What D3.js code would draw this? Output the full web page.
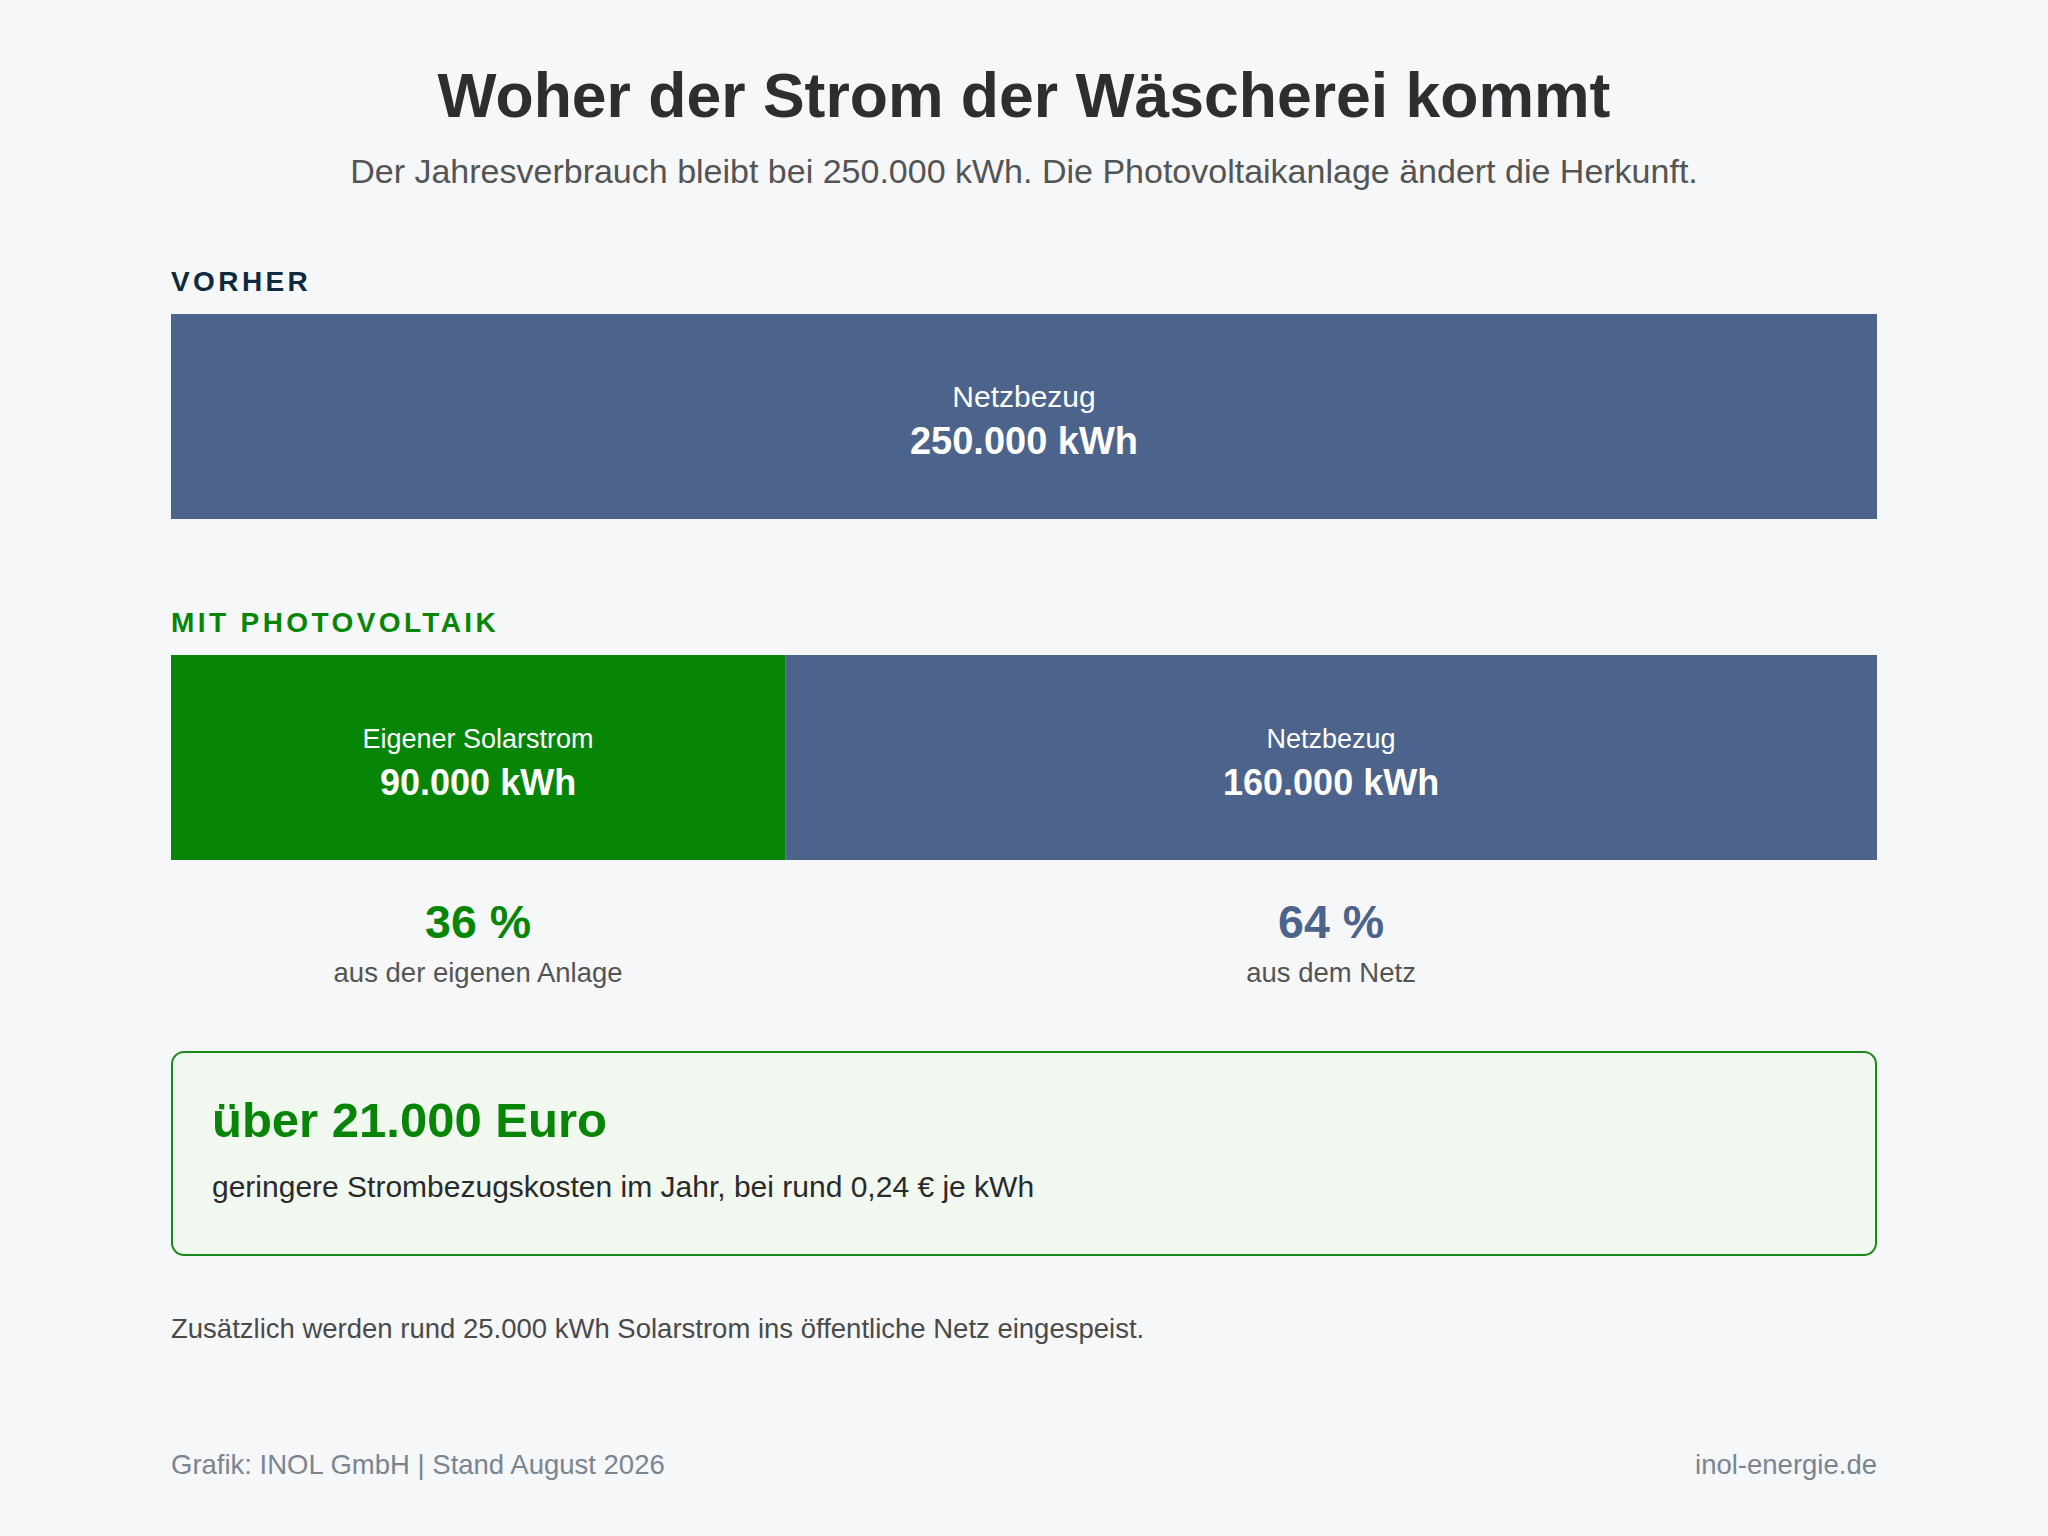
<!DOCTYPE html>
<html>
<head>
<meta charset="utf-8">
<script src="https://cdn.jsdelivr.net/npm/d3@7/dist/d3.min.js"></script>
<style>
  html, body { margin: 0; padding: 0; background: #f6f7f9; }
  svg { display: block; font-family: "Liberation Sans", Arial, sans-serif; }
</style>
</head>
<body>
<svg id="vis"></svg>
<script>
const width = 2048;
const height = 1536;

/* DATA */
const total = 250000;
const beforeSegments = ["Netzbezug"];
const beforeValues = [250000];
const beforeValueLabels = ["250.000 kWh"];
const afterSegments = ["Eigener Solarstrom", "Netzbezug"];
const afterValues = [90000, 160000];
const afterValueLabels = ["90.000 kWh", "160.000 kWh"];
const afterShares = ["36 %", "64 %"];
const afterShareLabels = ["aus der eigenen Anlage", "aus dem Netz"];

const titleText = "Woher der Strom der Wäscherei kommt";
const subtitleText = "Der Jahresverbrauch bleibt bei 250.000 kWh. Die Photovoltaikanlage ändert die Herkunft.";
const savingText = "über 21.000 Euro";
const savingNote = "geringere Strombezugskosten im Jahr, bei rund 0,24 € je kWh";
const feedInNote = "Zusätzlich werden rund 25.000 kWh Solarstrom ins öffentliche Netz eingespeist.";
const footerLeft = "Grafik: INOL GmbH | Stand August 2026";
const footerRight = "inol-energie.de";

const colors = {
  grid: "#4c638b",
  solar: "#078507",
  title: "#2e2e2e",
  sub: "#545454",
  heading: "#0f2a3d",
  foot: "#7a8591"
};

const margin = { left: 171, right: 171 };
const barHeight = 205;

let svg = d3.select("svg#vis").attr("width", width).attr("height", height);

const x = d3.scaleLinear()
  .domain([0, total])
  .range([margin.left, width - margin.right]);


/* TITLES */
svg.append("text")
  .attr("x", width / 2).attr("y", 117)
  .attr("text-anchor", "middle")
  .attr("font-size", 62.5).attr("font-weight", "bold")
  .attr("fill", colors.title)
  .text(titleText);

svg.append("text")
  .attr("x", width / 2).attr("y", 183)
  .attr("text-anchor", "middle")
  .attr("font-size", 34)
  .attr("fill", colors.sub)
  .text(subtitleText);


/* BARS */
drawSection({
  heading: "VORHER", headColor: colors.heading, headY: 291, barY: 314,
  names: beforeSegments, values: beforeValues, labels: beforeValueLabels,
  fills: [colors.grid], nameSize: 30, valueSize: 38
});

drawSection({
  heading: "MIT PHOTOVOLTAIK", headColor: colors.solar, headY: 632, barY: 655,
  names: afterSegments, values: afterValues, labels: afterValueLabels,
  fills: [colors.solar, colors.grid], nameSize: 27, valueSize: 36
});

function drawSection(opt) {
  svg.append("text")
    .attr("x", margin.left).attr("y", opt.headY)
    .attr("font-size", 28).attr("font-weight", "bold")
    .attr("letter-spacing", 3.4)
    .attr("fill", opt.headColor)
    .text(opt.heading);

  let start = 0;
  const segs = opt.values.map(function(v, i) {
    const s = { name: opt.names[i], label: opt.labels[i], x0: start, x1: start + v, fill: opt.fills[i] };
    start += v;
    return s;
  });

  const g = svg.append("g").attr("transform", translate(0, opt.barY));

  const cells = g.selectAll("g.seg")
    .data(segs)
    .enter()
    .append("g")
    .attr("class", "seg");

  cells.append("rect")
    .attr("x", d => x(d.x0))
    .attr("y", 0)
    .attr("width", d => x(d.x1) - x(d.x0))
    .attr("height", barHeight)
    .attr("fill", d => d.fill);

  cells.append("text")
    .attr("x", d => midpoint([x(d.x0), x(d.x1)]))
    .attr("y", 93)
    .attr("text-anchor", "middle")
    .attr("font-size", opt.nameSize)
    .attr("fill", "#ffffff")
    .text(d => d.name);

  cells.append("text")
    .attr("x", d => midpoint([x(d.x0), x(d.x1)]))
    .attr("y", 140)
    .attr("text-anchor", "middle")
    .attr("font-size", opt.valueSize).attr("font-weight", "bold")
    .attr("fill", "#ffffff")
    .text(d => d.label);
}


/* SHARES */
let acc = 0;
const shareData = afterValues.map(function(v, i) {
  const d = { share: afterShares[i], label: afterShareLabels[i], x0: acc, x1: acc + v };
  acc += v;
  return d;
});
const shareColors = [colors.solar, colors.grid];

const shares = svg.selectAll("g.share")
  .data(shareData)
  .enter()
  .append("g")
  .attr("class", "share");

shares.append("text")
  .attr("x", d => midpoint([x(d.x0), x(d.x1)]))
  .attr("y", 938)
  .attr("text-anchor", "middle")
  .attr("font-size", 46.5).attr("font-weight", "bold")
  .attr("fill", (d, i) => shareColors[i])
  .text(d => d.share);

shares.append("text")
  .attr("x", d => midpoint([x(d.x0), x(d.x1)]))
  .attr("y", 982)
  .attr("text-anchor", "middle")
  .attr("font-size", 27.5)
  .attr("fill", colors.sub)
  .text(d => d.label);


/* SAVINGS BOX */
const box = svg.append("g").attr("transform", translate(x(0), 1051));

box.append("rect")
  .attr("x", 1).attr("y", 1)
  .attr("width", x(total) - x(0) - 2)
  .attr("height", 203)
  .attr("rx", 12)
  .attr("fill", "#f1f8f0")
  .attr("stroke", "#1a8a1a")
  .attr("stroke-width", 2);

box.append("text")
  .attr("x", 41).attr("y", 86)
  .attr("font-size", 49).attr("font-weight", "bold")
  .attr("fill", colors.solar)
  .text(savingText);

box.append("text")
  .attr("x", 41).attr("y", 146)
  .attr("font-size", 30)
  .attr("fill", "#2a2a2a")
  .text(savingNote);


/* NOTES */
svg.append("text")
  .attr("x", x(0)).attr("y", 1338)
  .attr("font-size", 27.5)
  .attr("fill", "#4a4a4a")
  .text(feedInNote);

svg.append("text")
  .attr("x", x(0)).attr("y", 1474)
  .attr("font-size", 27.5)
  .attr("fill", colors.foot)
  .text(footerLeft);

svg.append("text")
  .attr("x", x(total)).attr("y", 1474)
  .attr("text-anchor", "end")
  .attr("font-size", 27.5)
  .attr("fill", colors.foot)
  .text(footerRight);


function midpoint(range) {
  return range[0] + (range[1] - range[0]) / 2.0;
}

function translate(x, y) {
  return 'translate(' + String(x) + ',' + String(y) + ')';
}
</script>
</body>
</html>
